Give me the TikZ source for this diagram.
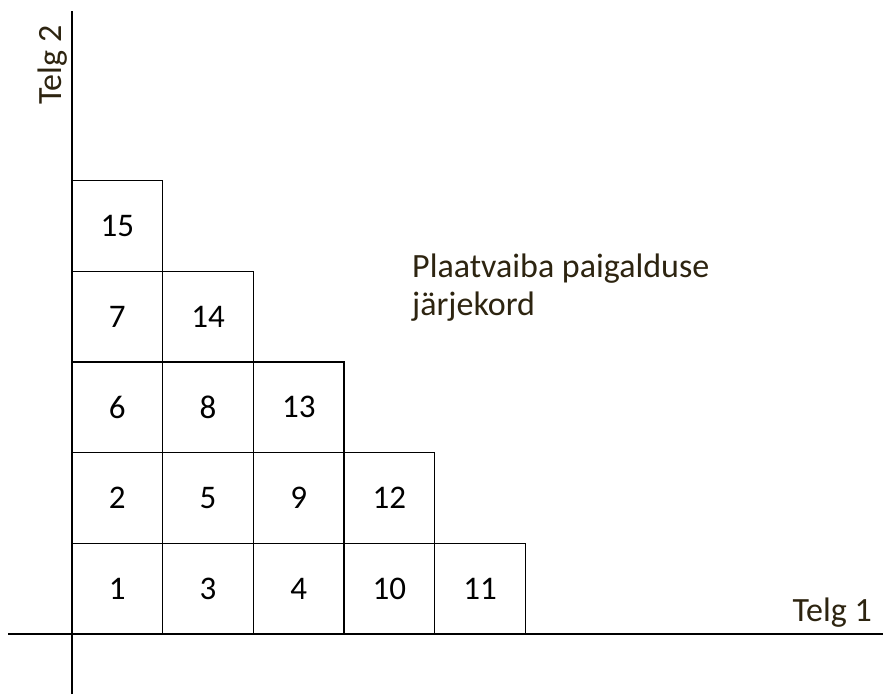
\documentclass[tikz,border=0pt]{standalone}
\usepackage{fontspec}
\setmainfont{Carlito}
\usetikzlibrary{positioning}
\definecolor{labelbrown}{RGB}{45,36,16}
\tikzset{
  tile/.style={draw, line width=1.3pt, minimum size=90.7pt, inner sep=0pt, font=\fontsize{33}{34}\selectfont},
  axis/.style={line width=2.8pt},
  caption/.style={inner sep=0pt, text=labelbrown, font=\fontsize{34}{38}\selectfont}
}
\begin{document}
\begin{tikzpicture}[x=1pt,y=-1pt]
    \useasboundingbox (0,0) rectangle (883,694);
    \def\tiles{0/0/1,1/0/3,2/0/4,3/0/10,4/0/11,0/1/2,1/1/5,2/1/9,3/1/12,0/2/6,1/2/8,2/2/13,0/3/7,1/3/14,0/4/15}
    %          column/row/order
    \foreach \c/\r/\n in \tiles {\node[tile] (t\n) at ({117.35+90.7*\c},{588.65-90.7*\r}) {\n};}
    \coordinate (xs) at (8,634);
    \coordinate (xe) at (883,634);
    \coordinate (ys) at (72,694);
    \coordinate (ye) at (72,11);
    \draw[axis] (xs)--(xe);
    \draw[axis] (ys)--(ye);
    \node[caption, anchor=base east] (telg1) at (872,621) {Telg 1};
    \node[caption, anchor=base west, rotate=90] (telg2) at (61,105) {Telg 2};
    \node[caption, anchor=base west] (title1) at (412,277) {Plaatvaiba paigalduse};
    \node[caption, anchor=base west] (title2) at ([yshift=-38pt]title1.base west) {järjekord};
\end{tikzpicture}
\end{document}
